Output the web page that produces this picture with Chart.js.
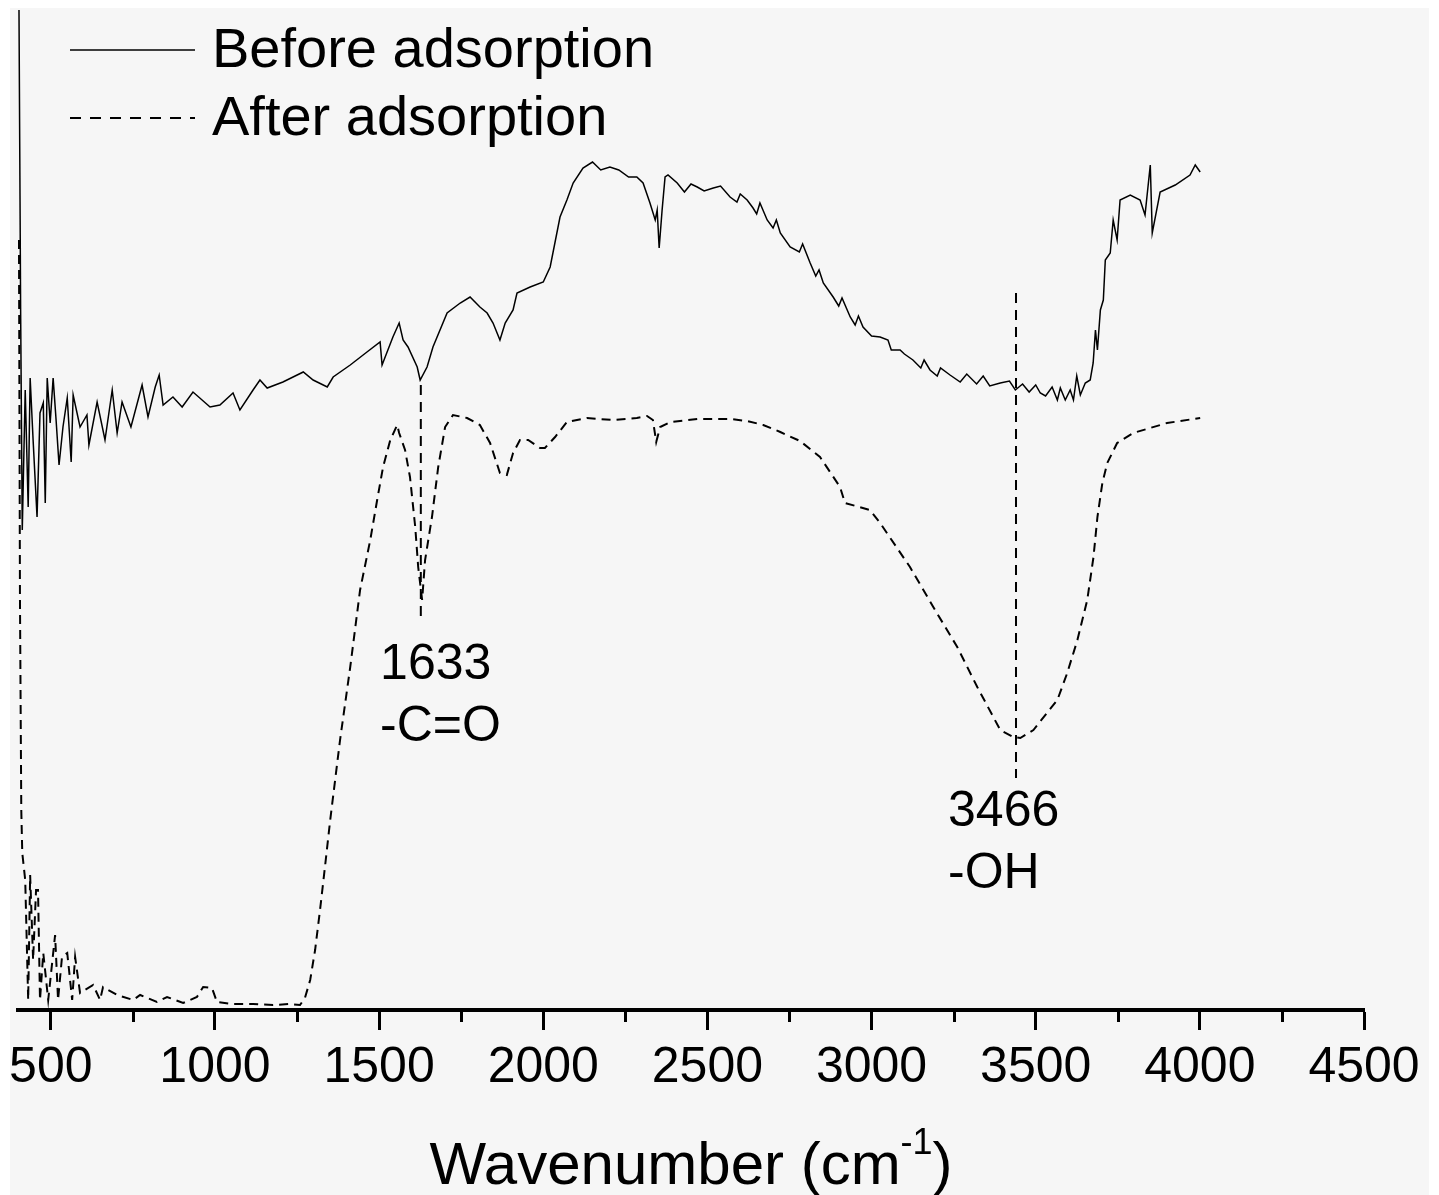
<!DOCTYPE html>
<html>
<head>
<meta charset="utf-8">
<script src="https://cdn.jsdelivr.net/npm/chart.js@4.4.1/dist/chart.umd.min.js"></script>
<style>
  html, body { margin: 0; padding: 0; background: #ffffff; overflow: hidden; }
  #wrap { width: 1439px; height: 1195px; position: relative; }
</style>
</head>
<body>
<div id="wrap"><canvas id="grafico"></canvas></div>
<script>
// FTIR spectra, values (arbitrary signal units 0-100)

const beforeWavenumber = [403, 408, 413, 422, 431, 437, 446, 458, 467, 477, 483, 489, 498, 507, 516, 525, 537, 550, 562, 568,
  589, 610, 616, 641, 665, 687, 702, 717, 744, 778, 796, 818, 830, 842, 872, 900, 933, 985, 1015, 1055,
  1076, 1116, 1137, 1159, 1207, 1269, 1299, 1342, 1360, 1412, 1463, 1503, 1509, 1542, 1561, 1573, 1588, 1616, 1625, 1646,
  1664, 1707, 1747, 1777, 1807, 1829, 1847, 1868, 1884, 1908, 1920, 1960, 2000, 2021, 2051, 2072, 2091, 2121, 2150, 2175,
  2203, 2230, 2260, 2285, 2304, 2325, 2341, 2347, 2353, 2362, 2371, 2380, 2408, 2430, 2450, 2469, 2490, 2518, 2540, 2569,
  2590, 2600, 2621, 2639, 2650, 2660, 2682, 2700, 2710, 2722, 2752, 2780, 2790, 2813, 2830, 2840, 2853, 2883, 2900, 2910,
  2935, 2950, 2960, 2974, 3000, 3026, 3050, 3060, 3087, 3100, 3126, 3150, 3160, 3178, 3200, 3210, 3239, 3270, 3290, 3320,
  3340, 3360, 3392, 3420, 3438, 3460, 3480, 3500, 3514, 3530, 3550, 3566, 3575, 3590, 3605, 3615, 3625, 3636, 3651, 3666,
  3675, 3682, 3688, 3697, 3706, 3712, 3727, 3736, 3748, 3757, 3788, 3818, 3833, 3849, 3855, 3879, 3925, 3970, 3986, 4001];
const beforeSignal = [100, 70, 48, 62, 50.3, 63.2, 57, 49.3, 59.7, 60.7, 50.7, 63.2, 58.7, 63.2, 59, 54.5, 58.3, 61.2, 54.8, 61.5,
  58.3, 59.5, 56.5, 60.8, 57, 62, 57.7, 60.8, 58.3, 62.5, 59.3, 62.3, 63.5, 60.5, 61.3, 60.3, 61.8, 60.3, 60.5, 61.7,
  60, 62, 63, 62.2, 62.8, 63.8, 63, 62.3, 63.3, 64.5, 65.8, 66.8, 64.5, 67.3, 68.7, 67, 66.3, 64.3, 63, 64.3,
  66.3, 69.7, 70.7, 71.3, 70.3, 69.7, 68.7, 67, 68.7, 70, 71.7, 72.3, 72.8, 74.3, 79.3, 81, 82.7, 84.2, 84.8, 84,
  84.3, 84, 83.3, 83.3, 82.7, 80.7, 79, 80, 76.2, 80, 83.3, 83.5, 82.7, 81.8, 82.6, 82.3, 81.9, 82.2, 82.4, 81.3,
  80.8, 81.6, 81, 80.2, 79.6, 80.7, 79, 78.2, 79, 77.7, 76.3, 75.8, 76.6, 74.7, 73.4, 74, 72.7, 71.3, 70.4, 71.2,
  69.3, 68.5, 69.4, 68.3, 67.4, 67.3, 67, 66, 66, 65.6, 65, 64.2, 65, 64, 63.4, 64.2, 63.5, 62.8, 63.6, 62.6,
  63.4, 62.4, 62.7, 62.9, 62, 62.6, 61.8, 62.5, 61.7, 61.4, 62.3, 61, 62.2, 61, 62, 61, 63.4, 61.5, 62.7, 63,
  64.7, 68, 66, 70, 71, 75, 75.7, 79, 77, 81, 81.5, 81, 79.5, 84.5, 77.7, 81.8, 82.5, 83.5, 84.5, 83.8];

const afterWavenumber = [403, 406, 410, 413, 422, 431, 437, 446, 455, 461, 467, 477, 492, 513, 522, 534, 550, 565, 574, 589,
  629, 650, 659, 702, 751, 772, 823, 854, 903, 945, 964, 991, 1006, 1055, 1116, 1177, 1229, 1259, 1274, 1290,
  1305, 1320, 1335, 1351, 1381, 1412, 1442, 1473, 1494, 1512, 1534, 1555, 1561, 1579, 1594, 1610, 1619, 1631, 1640, 1661,
  1680, 1701, 1725, 1768, 1807, 1838, 1868, 1889, 1908, 1929, 1954, 1990, 2005, 2036, 2072, 2133, 2212, 2285, 2316, 2334,
  2344, 2356, 2387, 2469, 2569, 2621, 2670, 2722, 2782, 2843, 2904, 2919, 2995, 3026, 3117, 3188, 3261, 3322, 3392, 3432,
  3453, 3493, 3566, 3596, 3627, 3657, 3676, 3688, 3703, 3718, 3748, 3797, 3900, 4001];
const afterSignal = [77, 41, 20, 15.7, 13, 1, 13.5, 5, 12, 12, 1, 5.7, 1, 7.5, 1, 5.3, 5.7, 1, 5.3, 1.7,
  2.5, 1, 2.3, 1.5, 1, 1.5, 0.8, 1.3, 0.7, 1.3, 2.3, 2.2, 0.8, 0.6, 0.6, 0.5, 0.6, 0.5, 1.2, 3,
  6, 10, 14.3, 19, 27, 34.3, 42, 47, 51, 54.3, 57, 58.5, 57.7, 56, 53.3, 48.3, 44.3, 41, 45, 49.3,
  54.3, 58.3, 59.5, 59.2, 58.5, 56.7, 53.7, 53.5, 55.7, 57, 57, 56.2, 56.2, 57.3, 58.8, 59.2, 59, 59.2, 59.4, 59,
  56.8, 58.3, 58.8, 59.1, 59.1, 58.9, 58.5, 57.8, 56.9, 55.3, 52.3, 50.7, 50, 48.7, 44.3, 40.3, 36.3, 32.3, 28, 27.3,
  27.2, 28, 31, 33.7, 37, 41, 45.3, 49.3, 52.7, 54.7, 56.7, 57.7, 58.7, 59.2];

const xTicks = [500, 1000, 1500, 2000, 2500, 3000, 3500, 4000, 4500];
const minorTicks = [750, 1250, 1750, 2250, 2750, 3250, 3750, 4250];

// marked bands: vertical dashed guide + label
const peakAt = [1627, 3440];
const peakTop = [62.5, 71.7];
const peakBottom = [38.8, 23.2];
const peakLabels = ['1633', '3466'];
const peakGroups = ['-C=O', '-OH'];
const labelX = [1503, 3233];
const labelY = [34.5, 19.8];

const FONT = '"Liberation Sans", Arial, sans-serif';

function pares(xs, ys) {
  return xs.map((x, i) => ({ x, y: ys[i] }));
}

const decoracion = {
  id: 'decoracion',
  beforeDraw(chart) {
    const ctx = chart.ctx;
    ctx.save();
    ctx.fillStyle = '#f6f6f6';
    ctx.fillRect(10, 8, chart.width - 20, chart.height - 8);
    ctx.restore();
  },
  afterDraw(chart) {
    const ctx = chart.ctx;
    const sx = chart.scales.x;
    const sy = chart.scales.y;
    const area = chart.chartArea;
    ctx.save();

    // minor ticks
    ctx.strokeStyle = '#000';
    ctx.lineWidth = 3;
    minorTicks.forEach(v => {
      const px = Math.round(sx.getPixelForValue(v)) + 0.5;
      ctx.beginPath();
      ctx.moveTo(px, area.bottom);
      ctx.lineTo(px, area.bottom + 12);
      ctx.stroke();
    });

    // peak labels
    ctx.fillStyle = '#000';
    ctx.font = '50px ' + FONT;
    ctx.textAlign = 'left';
    ctx.textBaseline = 'middle';
    peakLabels.forEach((t, i) => {
      const px = sx.getPixelForValue(labelX[i]);
      const py = sy.getPixelForValue(labelY[i]);
      ctx.fillText(t, px, py);
      ctx.fillText(peakGroups[i], px, py + 62);
    });

    // legend inside the plot
    ctx.font = '56px ' + FONT;
    [0, 1].forEach(i => {
      const ds = chart.data.datasets[i];
      const y = 50 + i * 68;
      ctx.beginPath();
      ctx.lineWidth = ds.borderWidth;
      ctx.setLineDash(i === 0 ? [] : [11, 9]);
      ctx.moveTo(area.left + 52, y);
      ctx.lineTo(area.left + 177, y);
      ctx.stroke();
      ctx.setLineDash([]);
      ctx.fillText(ds.label, area.left + 194, y + 2);
    });

    // axis title with superscript
    const main = 'Wavenumber (cm';
    const sup = '-1';
    const close = ')';
    ctx.font = '60px ' + FONT;
    const w1 = ctx.measureText(main).width;
    const w3 = ctx.measureText(close).width;
    ctx.font = '36px ' + FONT;
    const w2 = ctx.measureText(sup).width;
    let x = (area.left + area.right) / 2 - (w1 + w2 + w3) / 2;
    const base = 1184;
    ctx.textBaseline = 'alphabetic';
    ctx.font = '60px ' + FONT;
    ctx.fillText(main, x, base);
    ctx.font = '36px ' + FONT;
    ctx.fillText(sup, x + w1, base - 30);
    ctx.font = '60px ' + FONT;
    ctx.fillText(close, x + w1 + w2, base);
    ctx.restore();
  }
};

const datasets = [
  {
    label: 'Before adsorption',
    data: pares(beforeWavenumber, beforeSignal),
    borderColor: '#000',
    borderWidth: 1.5,
  },
  {
    label: 'After adsorption',
    data: pares(afterWavenumber, afterSignal),
    borderColor: '#000',
    borderWidth: 2,
    borderDash: [9, 6],
  },
];
peakAt.forEach((v, i) => {
  datasets.push({
    label: 'guide ' + peakLabels[i],
    data: [{ x: v, y: peakTop[i] }, { x: v, y: peakBottom[i] }],
    borderColor: '#000',
    borderWidth: 2,
    borderDash: [10, 7],
  });
});

new Chart(document.getElementById('grafico'), {
  type: 'line',
  data: { datasets },
  options: {
    responsive: true,
    maintainAspectRatio: false,
    animation: false,
    events: [],
    layout: { padding: { left: 18, right: 75, top: 10, bottom: 0 } },
    elements: { point: { radius: 0 }, line: { tension: 0, fill: false } },
    plugins: { legend: { display: false }, tooltip: { enabled: false } },
    scales: {
      x: {
        type: 'linear',
        min: 400,
        max: 4500,
        afterBuildTicks: s => { s.ticks = xTicks.map(v => ({ value: v })); },
        afterFit: s => { s.height = 185; },
        grid: { drawOnChartArea: false, tickLength: 20, tickWidth: 3, tickColor: '#000' },
        border: { display: true, width: 4, color: '#000' },
        ticks: {
          color: '#000',
          font: { family: FONT, size: 50 },
          padding: 8,
          maxRotation: 0,
          autoSkip: false,
          callback: v => String(v),
        },
      },
      y: { display: false, min: 0, max: 100 },
    },
  },
  plugins: [decoracion],
});
</script>
</body>
</html>
